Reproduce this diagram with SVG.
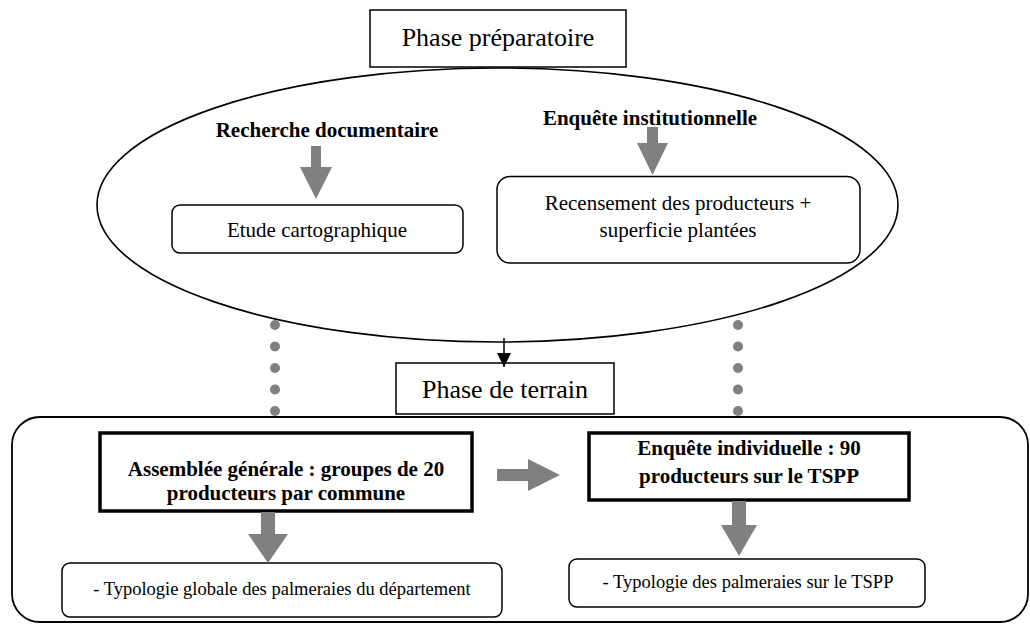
<svg xmlns="http://www.w3.org/2000/svg" width="1030" height="624" viewBox="0 0 1030 624">
<defs>
<style>
.box{fill:#fff;stroke:#000;stroke-width:1.5}
.thick{fill:#fff;stroke:#000;stroke-width:3.5}
.t{font-family:"Liberation Serif","Times New Roman",serif;fill:#000;text-anchor:middle}
.big{font-size:26px}
.n{font-size:21px}
.b{font-size:21px;font-weight:bold}
.s{font-size:18.5px}
.garrow{fill:#808080}
.dot{fill:#808080}
</style>
<marker id="ah" viewBox="0 0 14 14" refX="14" refY="7" markerWidth="14" markerHeight="14" markerUnits="userSpaceOnUse" orient="auto">
<path d="M0,0 L14,7 L0,14 Z" fill="#000"/>
</marker>
</defs>
<rect width="1030" height="624" fill="#fff"/>

<g id="ellipse-prep">
<ellipse cx="497.5" cy="205" rx="400.5" ry="137" fill="none" stroke="#000" stroke-width="1.6"/>
</g>

<g id="phase-preparatoire">
<rect class="box" x="370" y="10" width="256" height="57"/>
<text class="t big" x="498" y="46">Phase préparatoire</text>
</g>

<g id="recherche-documentaire">
<text class="t b" x="327" y="137">Recherche documentaire</text>
</g>

<g id="enquete-institutionnelle">
<text class="t b" x="650" y="125">Enquête institutionnelle</text>
</g>

<g id="etude-cartographique">
<rect class="box" x="172" y="205" width="291" height="48" rx="8"/>
<text class="t n" x="317" y="237">Etude cartographique</text>
</g>

<g id="recensement">
<rect class="box" x="497" y="176.5" width="363" height="86.5" rx="13"/>
<text class="t n" x="678" y="210">Recensement des producteurs +</text>
<text class="t n" x="678" y="237">superficie plantées</text>
</g>

<g id="terrain-frame">
<rect x="12" y="417" width="1016" height="205" rx="28" fill="none" stroke="#000" stroke-width="1.8"/>
</g>

<g id="phase-terrain">
<rect class="box" x="396" y="363" width="218" height="51"/>
<text class="t big" x="505" y="398">Phase de terrain</text>
</g>

<g id="assemblee-generale">
<rect class="thick" x="100" y="433" width="372" height="78"/>
<text class="t b" x="286" y="476">Assemblée générale : groupes de 20</text>
<text class="t b" x="286" y="500">producteurs par commune</text>
</g>

<g id="enquete-individuelle">
<rect class="thick" x="589" y="433" width="320" height="67"/>
<text class="t b" x="749" y="455">Enquête individuelle : 90</text>
<text class="t b" x="749" y="483">producteurs sur le TSPP</text>
</g>

<g id="typologie-globale">
<rect class="box" x="62" y="563" width="440" height="54" rx="8"/>
<text class="t s" x="282" y="595">- Typologie globale des palmeraies du département</text>
</g>

<g id="typologie-tspp">
<rect class="box" x="569" y="559" width="356" height="48" rx="8"/>
<text class="t s" x="748" y="588">- Typologie des palmeraies sur le TSPP</text>
</g>

<g id="connectors">
<polygon class="garrow" points="311,146 321,146 321,167 332,167 316,199 300,167 311,167"/>
<polygon class="garrow" points="647,127 658,127 658,143 668,143 652.5,175 637,143 647,143"/>
<polygon class="garrow" points="261,512 275,512 275,534 288,534 268,563 248,534 261,534"/>
<polygon class="garrow" points="732,501 746,501 746,525 757,525 739,556 721,525 732,525"/>
<polygon class="garrow" points="497,469 528,469 528,459 560,475 528,491 528,481 497,481"/>
<line x1="504" y1="338" x2="504" y2="367" stroke="#000" stroke-width="1.5" marker-end="url(#ah)"/>
<g id="dots-left">
<circle class="dot" cx="275" cy="325" r="5"/>
<circle class="dot" cx="275" cy="346.5" r="5"/>
<circle class="dot" cx="275" cy="368" r="5"/>
<circle class="dot" cx="275" cy="389.5" r="5"/>
<circle class="dot" cx="275" cy="411" r="5"/>
</g>
<g id="dots-right">
<circle class="dot" cx="738" cy="325" r="5"/>
<circle class="dot" cx="738" cy="346.5" r="5"/>
<circle class="dot" cx="738" cy="368" r="5"/>
<circle class="dot" cx="738" cy="389.5" r="5"/>
<circle class="dot" cx="738" cy="411" r="5"/>
</g>
</g>
</svg>
